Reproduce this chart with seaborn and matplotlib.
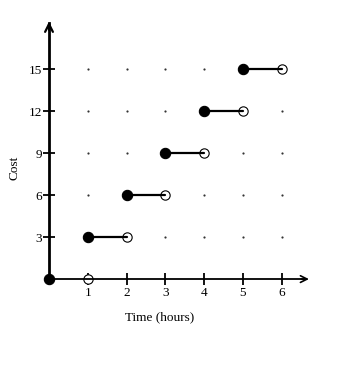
import matplotlib
matplotlib.use("Agg")
import matplotlib.pyplot as plt
import seaborn as sns
import pandas as pd

# Step function data: cost for each time interval [start, end)
starts = [0, 1, 2, 3, 4, 5]
ends = [1, 2, 3, 4, 5, 6]
costs = [0, 3, 6, 9, 12, 15]

x_ticks = [1, 2, 3, 4, 5, 6]
y_ticks = [3, 6, 9, 12, 15]

sns.set_theme(style="white")
plt.rcParams['font.family'] = ['Liberation Serif', 'DejaVu Serif']

fig = plt.figure(figsize=(3.55, 3.70), dpi=100)
ax = fig.add_axes([0.1, 0.189, 0.82, 0.77])
ax.set_xlim(-0.348, 7.155)
ax.set_ylim(-1.5, 18.86)

# grid dots
grid = pd.DataFrame([(gx, gy) for gx in x_ticks for gy in y_ticks], columns=["x", "y"])
sns.scatterplot(data=grid, x="x", y="y", ax=ax, s=2.5, color="#333333",
                linewidth=0, zorder=1, legend=False)

# segments (the zero-cost piece lies on the x axis itself)
seg_rows = []
for i, (s, e, c) in enumerate(zip(starts, ends, costs)):
    if c == 0:
        continue
    seg_rows.append({"seg": i, "x": s, "y": c})
    seg_rows.append({"seg": i, "x": e, "y": c})
seg = pd.DataFrame(seg_rows)
sns.lineplot(data=seg, x="x", y="y", units="seg", estimator=None, ax=ax,
             color="black", linewidth=1.6, zorder=3, legend=False)

closed = pd.DataFrame({"x": starts, "y": costs})
opened = pd.DataFrame({"x": ends, "y": costs})
sns.scatterplot(data=closed, x="x", y="y", ax=ax, s=55, color="black",
                edgecolor="black", linewidth=0.8, zorder=5, legend=False)
sns.scatterplot(data=opened, x="x", y="y", ax=ax, s=45, color="white",
                edgecolor="black", linewidth=0.8, zorder=2.2, legend=False)

# axes
for side in ["top", "right"]:
    ax.spines[side].set_visible(False)
ax.spines["left"].set_position(("data", 0))
ax.spines["bottom"].set_position(("data", 0))
ax.spines["left"].set_bounds(0, 18.3)
ax.spines["bottom"].set_bounds(0, 6.62)
ax.spines["left"].set_linewidth(2.0)
ax.spines["bottom"].set_linewidth(1.3)
ax.spines["left"].set_color("black")
ax.spines["bottom"].set_color("black")
ax.spines["left"].set_zorder(2.5)
ax.spines["bottom"].set_zorder(2.5)

ax.annotate("", xy=(6.7, 0), xytext=(6.5, 0),
            arrowprops=dict(arrowstyle="->", color="black", lw=1.2,
                            mutation_scale=12, shrinkA=0, shrinkB=0))
ax.annotate("", xy=(0, 18.4), xytext=(0, 17.8),
            arrowprops=dict(arrowstyle="->", color="black", lw=1.6,
                            mutation_scale=14, shrinkA=0, shrinkB=0))

ax.set_xticks(x_ticks)
ax.set_yticks(y_ticks)
ax.set_xticklabels([str(v) for v in x_ticks])
ax.set_yticklabels([str(v) for v in y_ticks])
ax.tick_params(axis="x", direction="inout", length=9, width=1.3, pad=1,
               labelsize=9.5, colors="black", bottom=True)
ax.tick_params(axis="y", direction="inout", length=8, width=1.3, pad=1,
               labelsize=9.5, colors="black", left=True)

ax.set_xlabel("Time (hours)", fontsize=9.5, color="black")
ax.set_ylabel("Cost", fontsize=9.5, color="black")
ax.xaxis.set_label_coords(0.428, -0.039)
ax.yaxis.set_label_coords(-0.05, 0.463)

fig.savefig("out.png", dpi=100, facecolor="white")
